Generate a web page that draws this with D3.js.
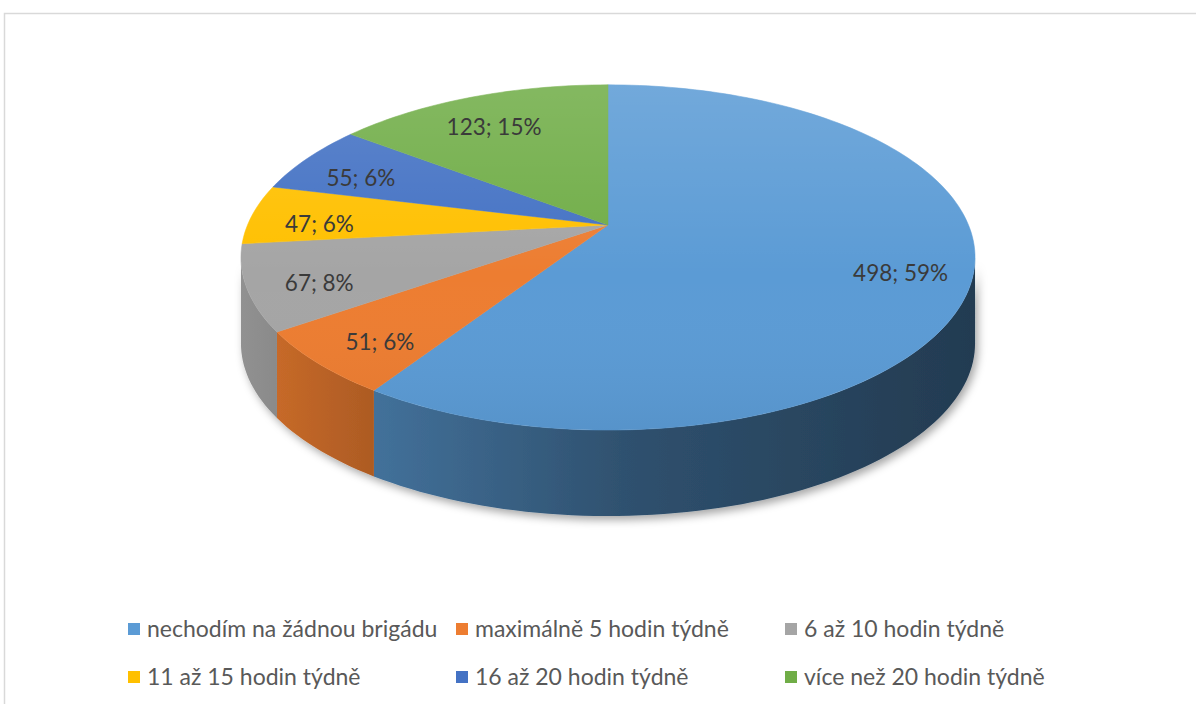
<!DOCTYPE html>
<html>
<head>
<meta charset="utf-8">
<script src="https://cdn.jsdelivr.net/npm/d3@7"></script>
<style>
  html, body { margin: 0; padding: 0; background: #fff; }
  svg { display: block; font-family: Lato, "Open Sans", sans-serif; }
</style>
</head>
<body>
<div id="chart"></div>
<script>
// 3D pie: hours of part-time work per week (Excel-style)

const categories = [
  "nechodím na žádnou brigádu",
  "maximálně 5 hodin týdně",
  "6 až 10 hodin týdně",
  "11 až 15 hodin týdně",
  "16 až 20 hodin týdně",
  "více než 20 hodin týdně"
];
const counts = [498, 51, 67, 47, 55, 123];
const percents = [59, 6, 8, 6, 6, 15];
const colors = ["#5b9bd5", "#ed7d31", "#a5a5a5", "#ffc000", "#4472c4", "#70ad47"];

const W = 1196, H = 704;
const svg = d3.select("#chart").append("svg").attr("width", W).attr("height", H);
const defs = svg.append("defs");

// frame
svg.append("rect").attr("x", 4.5).attr("y", 13.5).attr("width", W + 10).attr("height", H + 10)
  .attr("fill", "#fff").attr("stroke", "#d9d9d9").attr("stroke-width", 1.5);

// projection of the tilted disc (simple homography, front looks bigger)
const cx = 608, cy = 225, a = 360.5, b = 166.5, p = 0.188, depth = 86;
function proj(u, v, dz = 0) {
  const w = 1 - p * v;
  return [cx + a * u / w, cy + b * v / w + dz];
}
// angle in degrees, clockwise from 12 o'clock
const onDisc = (deg, r = 1) => {
  const t = deg * Math.PI / 180;
  return [r * Math.sin(t), -r * Math.cos(t)];
};

const pie = d3.pie().sort(null).startAngle(0).endAngle(2 * Math.PI)(counts);
const toDeg = rad => rad * 180 / Math.PI;

function arcPts(d0, d1, dz) {
  const n = Math.max(2, Math.ceil(Math.abs(d1 - d0) / 1.5));
  return d3.range(n + 1).map(i => {
    const [u, v] = onDisc(d0 + (d1 - d0) * i / n);
    return proj(u, v, dz);
  });
}

const line = d3.line();

// shadow filter
const f = defs.append("filter").attr("id", "shadow")
  .attr("x", "-10%").attr("y", "-10%").attr("width", "130%").attr("height", "140%");
f.append("feDropShadow").attr("dx", 3).attr("dy", 4).attr("stdDeviation", 4)
  .attr("flood-color", "#000").attr("flood-opacity", 0.35);

// side gradients: lit from the left
const sideStops = [[0, 0.88], [0.07, 0.82], [0.19, 0.72], [0.52, 0.52], [1, 0.38]];
colors.forEach((c, i) => {
  const g = defs.append("linearGradient").attr("id", "side" + i)
    .attr("gradientUnits", "userSpaceOnUse")
    .attr("x1", cx - a / Math.sqrt(1 - p * p)).attr("x2", cx + a / Math.sqrt(1 - p * p))
    .attr("y1", 0).attr("y2", 0);
  const base = d3.rgb(c);
  sideStops.forEach(([o, k]) => {
    g.append("stop").attr("offset", o)
      .attr("stop-color", d3.rgb(base.r * k, base.g * k, base.b * k).formatHex());
  });
});

const topGrad = defs.append("linearGradient").attr("id", "topShade")
  .attr("gradientUnits", "userSpaceOnUse").attr("x1", 0).attr("x2", 0)
  .attr("y1", proj(0, -1)[1]).attr("y2", proj(0, 1)[1]);
topGrad.append("stop").attr("offset", 0).attr("stop-color", "#fff").attr("stop-opacity", 0.14);
topGrad.append("stop").attr("offset", 0.55).attr("stop-color", "#fff").attr("stop-opacity", 0);
topGrad.append("stop").attr("offset", 1).attr("stop-color", "#000").attr("stop-opacity", 0.05);

// visible outer wall spans the front half between the silhouette points
const visA = 90 + toDeg(Math.asin(p)), visB = 270 - toDeg(Math.asin(p));

const gSide = svg.append("g").attr("filter", "url(#shadow)");
pie.forEach((s, i) => {
  const d0 = Math.max(toDeg(s.startAngle), visA), d1 = Math.min(toDeg(s.endAngle), visB);
  if (d1 <= d0) return;
  const topEdge = arcPts(d0, d1, 0);
  const botEdge = arcPts(d1, d0, depth);
  gSide.append("path").attr("d", line(topEdge.concat(botEdge)) + "Z")
    .attr("fill", `url(#side${i})`);
});

const gTop = svg.append("g");
pie.forEach((s, i) => {
  const pts = [proj(0, 0)].concat(arcPts(toDeg(s.startAngle), toDeg(s.endAngle), 0));
  gTop.append("path").attr("d", line(pts) + "Z").attr("fill", colors[i])
    .attr("stroke", colors[i]).attr("stroke-width", 0.5);
});
gTop.append("path").attr("d", line(arcPts(0, 360, 0)) + "Z").attr("fill", "url(#topShade)");

// data labels
const labelR = 0.81;
svg.append("g").selectAll("text").data(pie).join("text")
  .attr("x", d => proj(...onDisc(toDeg((d.startAngle + d.endAngle) / 2), labelR))[0])
  .attr("y", d => proj(...onDisc(toDeg((d.startAngle + d.endAngle) / 2), labelR))[1] + 8)
  .attr("dy", "0.35em").attr("text-anchor", "middle")
  .attr("font-size", 22.5).attr("fill", "#3a3a3a")
  .text((d, i) => `${counts[i]}; ${percents[i]}%`);

// legend
const legCols = [128, 456, 785], legRows = [629, 677];
const leg = svg.append("g").selectAll("g").data(categories).join("g")
  .attr("transform", (d, i) => `translate(${legCols[i % 3]},${legRows[Math.floor(i / 3)]})`);
leg.append("rect").attr("x", 0).attr("y", -6).attr("width", 12).attr("height", 12)
  .attr("fill", (d, i) => colors[i]);
leg.append("text").attr("x", 19).attr("dy", "0.35em")
  .attr("font-size", 23).attr("fill", "#595959").text(d => d);
</script>
</body>
</html>
